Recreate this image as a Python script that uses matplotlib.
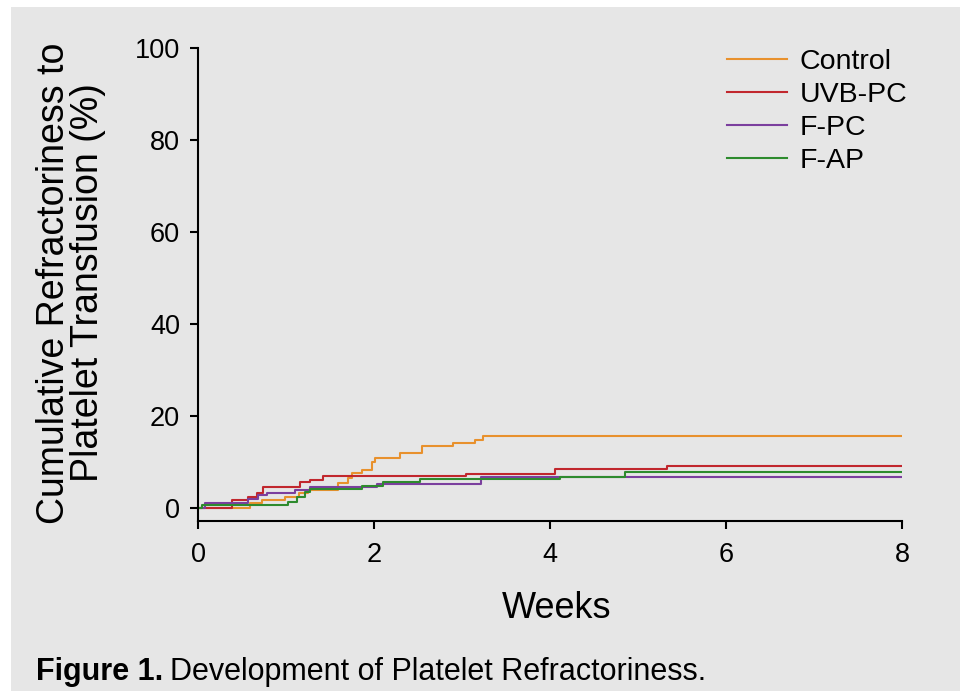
import matplotlib
matplotlib.use("Agg")
import matplotlib.pyplot as plt
from matplotlib.patches import Rectangle

# -----------------------------
# Data
# -----------------------------
control_weeks = [0, 0.59, 0.73, 0.99, 1.15, 1.25, 1.59, 1.70, 1.75, 1.86, 1.98, 2.01, 2.30, 2.54, 2.90, 3.15, 3.24, 8]
control_pct = [0, 1.1, 1.7, 2.5, 3.3, 4.0, 5.4, 6.5, 7.6, 8.3, 10.0, 10.8, 11.9, 13.5, 14.1, 14.8, 15.7, 15.7]

uvb_weeks = [0, 0.39, 0.57, 0.67, 0.74, 1.16, 1.27, 1.42, 3.05, 4.06, 5.33, 8]
uvb_pct = [0, 1.7, 2.5, 3.2, 4.6, 5.7, 6.2, 7.0, 7.5, 8.6, 9.1, 9.1]

fpc_weeks = [0, 0.08, 0.57, 0.68, 0.78, 1.10, 1.27, 2.03, 3.22, 8]
fpc_pct = [0, 1.2, 2.0, 2.8, 3.3, 3.9, 4.5, 5.2, 6.8, 6.8]

fap_weeks = [0, 0.05, 1.02, 1.13, 1.22, 1.27, 1.86, 2.10, 2.52, 4.11, 4.85, 8]
fap_pct = [0, 0.6, 1.4, 2.5, 3.5, 4.1, 4.8, 5.6, 6.3, 6.8, 7.8, 7.8]

series = [
    ("Control", control_weeks, control_pct, "#E8912D"),
    ("UVB-PC", uvb_weeks, uvb_pct, "#C1272D"),
    ("F-PC", fpc_weeks, fpc_pct, "#7B3F9E"),
    ("F-AP", fap_weeks, fap_pct, "#2E8B2E"),
]

x_ticks = [0, 2, 4, 6, 8]
y_ticks = [0, 20, 40, 60, 80, 100]

# -----------------------------
# Figure
# -----------------------------
plt.rcParams['font.family'] = ['Liberation Sans', 'DejaVu Sans']
bg = "#E6E6E6"

fig = plt.figure(figsize=(9.6, 6.91), dpi=100, facecolor="white")
fig.patches.append(Rectangle((11 / 960, 0), 1, 1 - 7 / 691, transform=fig.transFigure,
                             facecolor=bg, edgecolor="none", zorder=-5))

ax = fig.add_axes([198 / 960, 1 - 521 / 691, 704 / 960, 473 / 691])
ax.set_facecolor(bg)

for name, wk, pct, col in series:
    ax.step(wk, pct, where="post", color=col, lw=1.5, label=name)

ax.set_xlim(0, 8)
ax.set_ylim(-2.8, 100)
ax.set_xticks(x_ticks)
ax.set_yticks(y_ticks)
ax.spines["top"].set_visible(False)
ax.spines["right"].set_visible(False)
for s in ["left", "bottom"]:
    ax.spines[s].set_linewidth(1.5)
ax.tick_params(axis="both", length=6, width=1.5, labelsize=19.5)
ax.tick_params(axis="x", pad=9)
ax.tick_params(axis="y", pad=7)

ax.set_xlabel("Weeks", fontsize=26)
ax.xaxis.set_label_coords(0.5 + 7 / 704, -88 / 473)
ax.xaxis.label.set_va("center")
fig.text(71 / 960, 1 - 283 / 691, "Cumulative Refractoriness to\nPlatelet Transfusion (%)",
         rotation=90, ha="center", va="center", fontsize=27, linespacing=0.95)

ax.legend(loc="upper left", bbox_to_anchor=(727 / 960, 1 - 49 / 691), bbox_transform=fig.transFigure,
          frameon=False, fontsize=20.5, handlelength=2.1, handletextpad=0.45,
          labelspacing=0.24, borderpad=0, borderaxespad=0)

t1 = fig.text(36 / 960, 1 - 672 / 691, "Figure 1.", fontsize=22, fontweight="bold", va="center")
ax.annotate("Development of Platelet Refractoriness.", xy=(1, 0.5), xycoords=t1,
            xytext=(5, 0), textcoords="offset points", va="center", fontsize=22,
            annotation_clip=False)

fig.savefig("out.png", dpi=100, facecolor="white")
